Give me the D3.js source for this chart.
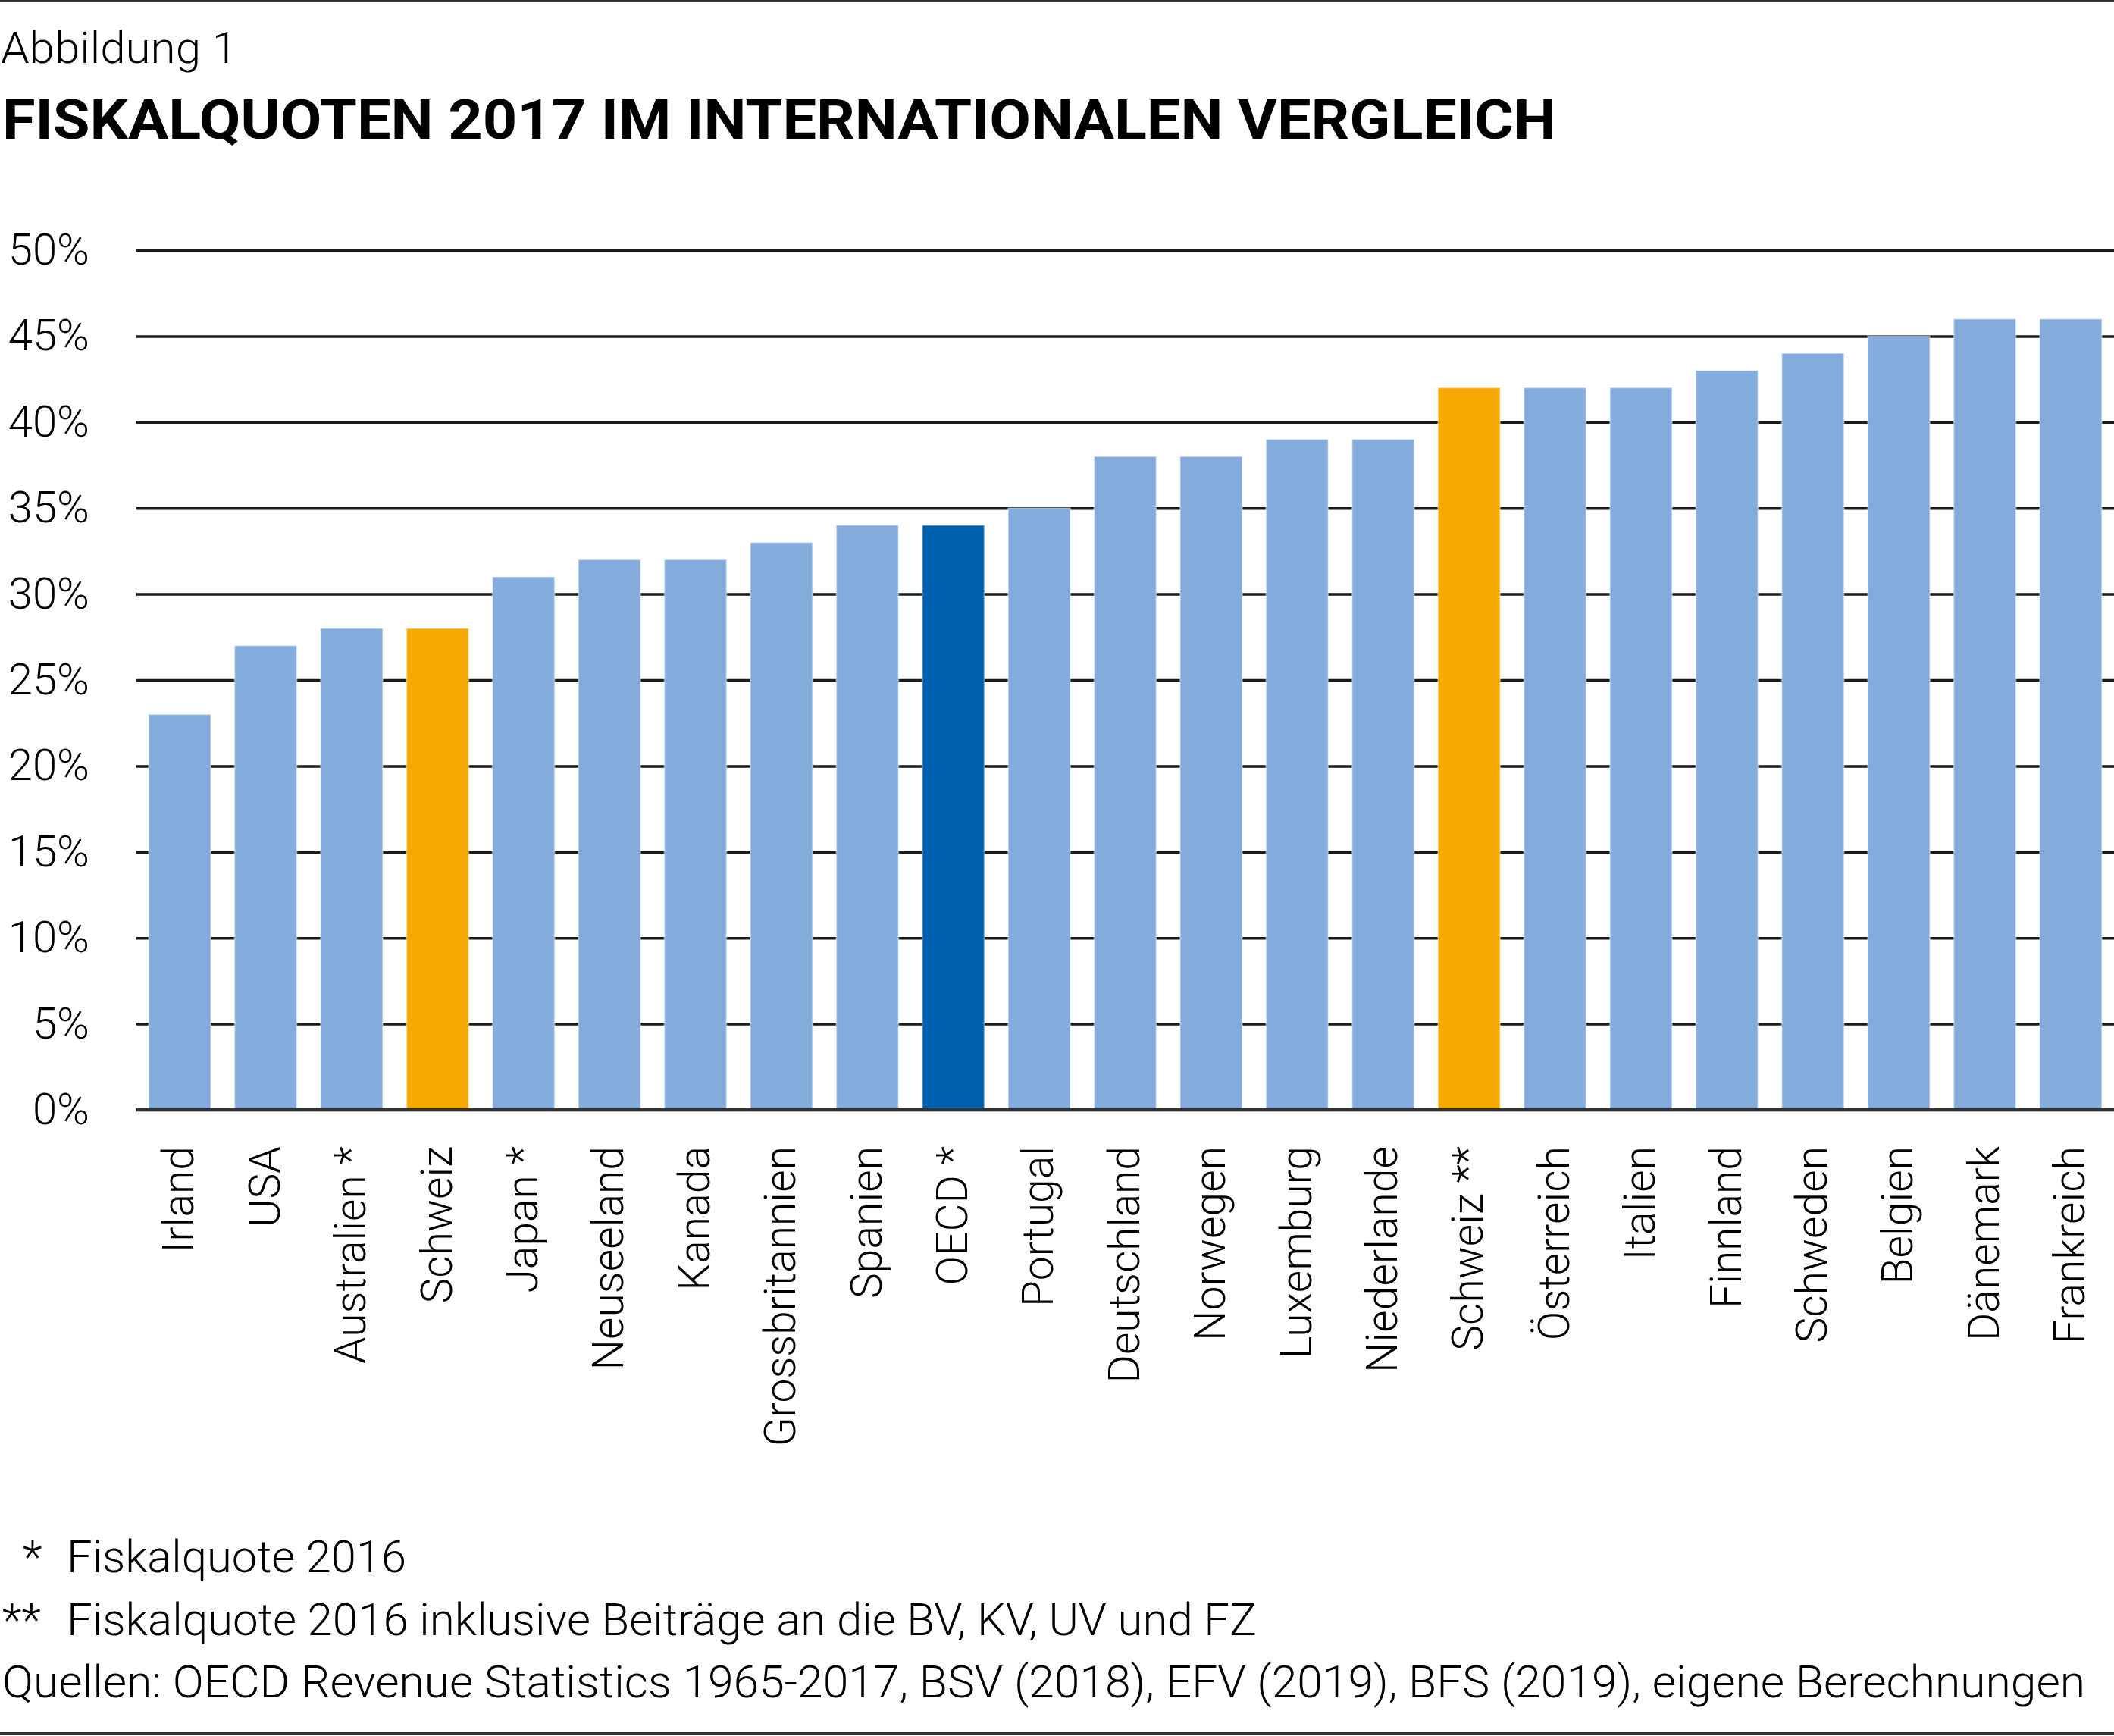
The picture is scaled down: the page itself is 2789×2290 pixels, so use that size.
<!DOCTYPE html>
<html>
<head>
<meta charset="utf-8">
<script src="https://cdn.jsdelivr.net/npm/d3@7"></script>
<style>
  html, body { margin: 0; padding: 0; background: #fff; }
  svg text { font-family: Roboto, "Open Sans", sans-serif; font-weight: 300; fill: #000; }
</style>
</head>
<body>
<svg id="chart" width="2789" height="2290"></svg>
<script>
// Fiskalquoten 2017 (in %), von tief nach hoch
var countries = ["Irland", "USA", "Australien *", "Schweiz", "Japan *", "Neuseeland", "Kanada",
  "Grossbritannien", "Spanien", "OECD *", "Portugal", "Deutschland", "Norwegen", "Luxemburg",
  "Niederlande", "Schweiz **", "Österreich", "Italien", "Finnland", "Schweden", "Belgien",
  "Dänemark", "Frankreich"];
var quotes = [23, 27, 28, 28, 31, 32, 32, 33, 34, 34, 35, 38, 38, 39, 39, 42, 42, 42, 43, 44, 45, 46, 46];
var yTicks = [0, 5, 10, 15, 20, 25, 30, 35, 40, 45, 50];
var footnotes = [
  { mark: "*", text: "Fiskalquote 2016", len: 448 },
  { mark: "**", text: "Fiskalquote 2016 inklusive Beiträge an die BV, KV, UV und FZ", len: 1570 }
];
var source = "Quellen: OECD Revenue Statistics 1965-2017, BSV (2018), EFV (2019), BFS (2019), eigene Berechnungen";

var W = 2789, H = 2290;
var left = 180, yZero = 1464, yTop = 330;

var svg = d3.select("#chart");

// Rahmenlinien oben und unten
svg.append("rect").attr("x", 0).attr("y", 0).attr("width", W).attr("height", 3).attr("fill", "#333");
svg.append("rect").attr("x", 0).attr("y", 2285).attr("width", W).attr("height", 4).attr("fill", "#333");

// Titel
svg.append("text").attr("x", 1).attr("y", 83)
  .style("font-size", "57px")
  .attr("textLength", 312).attr("lengthAdjust", "spacingAndGlyphs")
  .text("Abbildung 1");
svg.append("text").attr("x", 3).attr("y", 183)
  .style("font-size", "72px").style("font-weight", 700)
  .attr("textLength", 2050).attr("lengthAdjust", "spacingAndGlyphs")
  .text("FISKALQUOTEN 2017 IM INTERNATIONALEN VERGLEICH");

var x = d3.scaleBand()
  .domain(countries)
  .range([left, W])
  .paddingInner(0.277)
  .paddingOuter(0.142);

var y = d3.scaleLinear()
  .domain([0, 50])
  .range([yZero, yTop]);

// y-Achse mit Gitterlinien
var yAxis = svg.append("g")
  .attr("transform", "translate(" + left + ",0)")
  .call(d3.axisLeft(y)
    .tickValues(yTicks)
    .tickSize(-(W - left))
    .tickPadding(62)
    .tickFormat(function(d) { return d + "%"; }));
yAxis.select(".domain").remove();
yAxis.selectAll(".tick line").attr("stroke", "#1a1a1a").attr("stroke-width", 3.5);
yAxis.selectAll(".tick text")
  .style("font-size", "58px")
  .attr("fill", "#000");

// Balken
function barColor(d) {
  if (d.startsWith("Schweiz")) return "#f5a800";
  if (d.startsWith("OECD")) return "#0062ae";
  return "#83acdc";
}
svg.append("g").selectAll("rect")
  .data(countries)
  .join("rect")
  .attr("x", function(d) { return x(d); })
  .attr("y", function(d, i) { return y(quotes[i]); })
  .attr("width", x.bandwidth())
  .attr("height", function(d, i) { return y(0) - y(quotes[i]); })
  .attr("fill", barColor)
  .attr("stroke", "rgba(255,255,255,0.35)")
  .attr("stroke-width", 2);

// Nulllinie
svg.append("line")
  .attr("x1", left).attr("x2", W)
  .attr("y1", yZero).attr("y2", yZero)
  .attr("stroke", "#333").attr("stroke-width", 4);

// Länderbeschriftung
var xAxis = svg.append("g")
  .attr("transform", "translate(0," + yZero + ")")
  .call(d3.axisBottom(x).tickSize(0));
xAxis.select(".domain").remove();
xAxis.selectAll(".tick text")
  .style("font-size", "57px")
  .attr("fill", "#000")
  .attr("text-anchor", "end")
  .attr("x", 0).attr("y", 0)
  .attr("dy", "0.32em")
  .attr("transform", "translate(0,48) rotate(-90)");

// Fussnoten
var notes = svg.append("g");
footnotes.forEach(function(f, i) {
  var yy = 2074 + i * 83;
  notes.append("text")
    .attr("x", f.mark === "*" ? 30 : 3).attr("y", yy)
    .style("font-size", "60px")
    .text(f.mark);
  notes.append("text")
    .attr("x", 88).attr("y", yy)
    .style("font-size", "59px")
    .attr("textLength", f.len).attr("lengthAdjust", "spacingAndGlyphs")
    .text(f.text);
});
notes.append("text")
  .attr("x", 3).attr("y", 2239)
  .style("font-size", "59px")
  .attr("textLength", 2748).attr("lengthAdjust", "spacingAndGlyphs")
  .text(source);
</script>
</body>
</html>
